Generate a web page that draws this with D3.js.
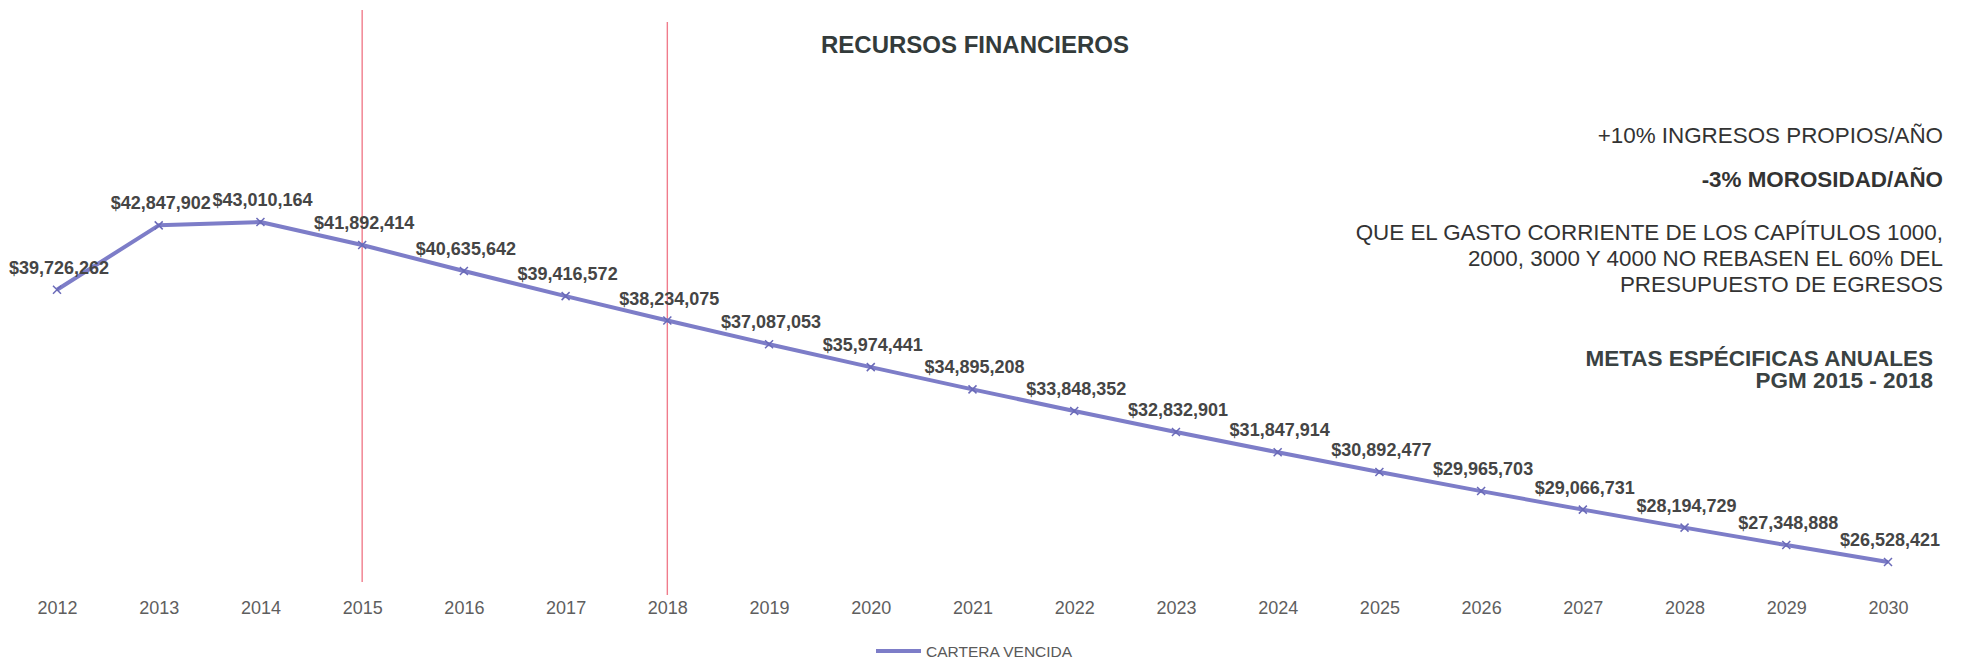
<!DOCTYPE html>
<html>
<head>
<meta charset="utf-8">
<script src="https://cdn.jsdelivr.net/npm/d3@7"></script>
<style>
  body { margin: 0; background: #fff; }
  svg { display: block; font-family: "Liberation Sans", Arial, sans-serif; }
</style>
</head>
<body>
<div id="chart"></div>
<script>
// years on the x axis
var years = ["2012","2013","2014","2015","2016","2017","2018","2019","2020","2021",
             "2022","2023","2024","2025","2026","2027","2028","2029","2030"];
// cartera vencida (pesos)
var cartera = [39726262, 42847902, 43010164, 41892414, 40635642, 39416572, 38234075,
               37087053, 35974441, 34895208, 33848352, 32832901, 31847914, 30892477,
               29965703, 29066731, 28194729, 27348888, 26528421];
// years marked with the red lines (PGM 2015 - 2018)
var markYears = ["2015", "2018"];
var seriesName = "CARTERA VENCIDA";
var chartTitle = "RECURSOS FINANCIEROS";
var notes = [
  {text: "+10% INGRESOS PROPIOS/AÑO", bold: false},
  {text: "-3% MOROSIDAD/AÑO", bold: true},
  {text: "QUE EL GASTO CORRIENTE DE LOS CAPÍTULOS 1000,", bold: false},
  {text: "2000, 3000 Y 4000 NO REBASEN EL 60% DEL", bold: false},
  {text: "PRESUPUESTO DE EGRESOS", bold: false}
];
var goals = ["METAS ESPÉCIFICAS ANUALES", "PGM 2015 - 2018"];

var width = 1963, height = 660;
var lineColor = "#7d7dc8";

var svg = d3.select("#chart").append("svg")
  .attr("width", width)
  .attr("height", height);

var data = years.map(function(y, i) { return {year: y, value: cartera[i]}; });

var x = d3.scalePoint()
  .domain(years)
  .range([57, 1888]);

var y = d3.scaleLinear()
  .domain(d3.extent(cartera))
  .range([562, 222]);

var fmt = d3.format(",d");

// title
svg.append("text")
  .attr("x", 975)
  .attr("y", 53)
  .attr("text-anchor", "middle")
  .attr("font-size", 24)
  .attr("font-weight", "bold")
  .attr("fill", "#333b3b")
  .text(chartTitle);

// red vertical markers
svg.append("line")
  .attr("x1", x(markYears[0])).attr("x2", x(markYears[0]))
  .attr("y1", 10).attr("y2", 582)
  .attr("stroke", "#f07c8c").attr("stroke-width", 1.4);
svg.append("line")
  .attr("x1", x(markYears[1])).attr("x2", x(markYears[1]))
  .attr("y1", 22).attr("y2", 595)
  .attr("stroke", "#f07c8c").attr("stroke-width", 1.4);

// x axis (labels only)
var xAxis = svg.append("g")
  .attr("transform", "translate(0,596)")
  .call(d3.axisBottom(x).tickSize(0).tickPadding(0));
xAxis.select(".domain").remove();
xAxis.selectAll("text")
  .attr("dy", "1em")
  .attr("font-size", 18)
  .attr("font-family", "'Liberation Sans', Arial, sans-serif")
  .attr("fill", "#5e5e5e");

// series line
var line = d3.line()
  .x(function(d) { return x(d.year); })
  .y(function(d) { return y(d.value); });

svg.append("path")
  .datum(data)
  .attr("fill", "none")
  .attr("stroke", lineColor)
  .attr("stroke-width", 4)
  .attr("stroke-linejoin", "round")
  .attr("d", line);

// x markers
svg.append("g")
  .selectAll("path")
  .data(data)
  .join("path")
  .attr("transform", function(d) { return "translate(" + x(d.year) + "," + y(d.value) + ")"; })
  .attr("d", "M-4,-4L4,4M-4,4L4,-4")
  .attr("stroke", "#6a6ab8")
  .attr("stroke-width", 1.5);

// data labels
svg.append("g")
  .selectAll("text")
  .data(data)
  .join("text")
  .attr("x", function(d) { return x(d.year) + 2; })
  .attr("y", function(d) { return y(d.value) - 16; })
  .attr("text-anchor", "middle")
  .attr("font-size", 18)
  .attr("font-weight", "bold")
  .attr("fill", "#454545")
  .text(function(d) { return "$" + fmt(d.value); });

// notes on the right
var noteY = [143, 187, 240, 266, 292];
svg.append("g")
  .selectAll("text")
  .data(notes)
  .join("text")
  .attr("x", 1943)
  .attr("y", function(d, i) { return noteY[i]; })
  .attr("text-anchor", "end")
  .attr("font-size", 22.4)
  .attr("font-weight", function(d) { return d.bold ? "bold" : "normal"; })
  .attr("fill", "#333")
  .text(function(d) { return d.text; });

svg.append("g")
  .selectAll("text")
  .data(goals)
  .join("text")
  .attr("x", 1933)
  .attr("y", function(d, i) { return 366 + i * 22; })
  .attr("text-anchor", "end")
  .attr("font-size", 22.5)
  .attr("font-weight", "bold")
  .attr("fill", "#3a4242")
  .text(function(d) { return d; });

// legend
var legend = svg.append("g").attr("transform", "translate(876,651)");
legend.append("line")
  .attr("x1", 0).attr("x2", 45)
  .attr("stroke", lineColor).attr("stroke-width", 4);
legend.append("text")
  .attr("x", 50)
  .attr("y", 6)
  .attr("font-size", 15.5)
  .attr("fill", "#595959")
  .text(seriesName);
</script>
</body>
</html>
